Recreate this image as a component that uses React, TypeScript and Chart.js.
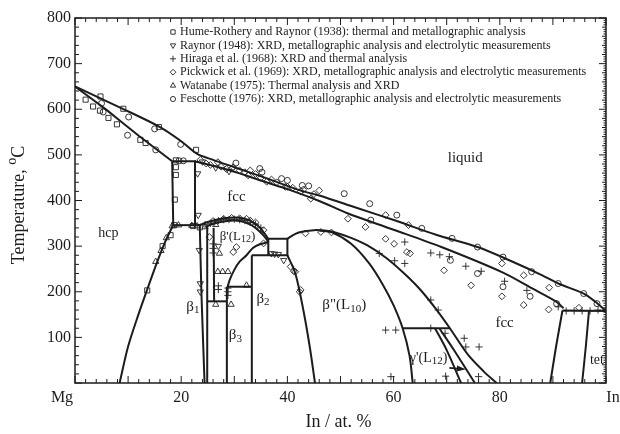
import React, { useEffect, useRef } from 'react';
import { Chart, registerables } from 'chart.js';
import { drawPoint } from 'chart.js/helpers';
Chart.register(...registerables);

const FONT = '"Liberation Serif", "Times New Roman", serif';
const INK = '#1c1c1c';

// ---- axis ticks ----
const xTickPositions = [0, 20, 40, 60, 80, 100];
const xTickLabels = ['Mg', '20', '40', '60', '80', 'In'];
const yTickValues = [100, 200, 300, 400, 500, 600, 700, 800];

// ---- phase boundaries [In at.%, T degC] ----
const liquidus = [[0,650],[9,601],[16,561],[20,530],[23,502],[26,489],[30,473],[36,449],[42.7,421],[46,411],[53,384],[60.6,355],[68,325],[75.8,298],[82,268],[88,236],[91,218],[95.8,196],[98,178],[100,158]];
const hcpSolidus = [[0,650],[6,598],[12,542],[18.3,486]];
const fccSolidus = [[22.5,486],[25,479],[30,463],[36,440],[40,425],[46,399],[51.3,372],[60,336],[69,298],[80.6,242],[86,208],[90.7,178],[92,164]];
const peritectic = [[18.3,486],[22.8,486]];
const boxLeft = [[18.3,486],[18.5,346]];
const boxRight = [[22.6,486],[22.6,346]];
const eutectoid = [[18.5,346],[23.6,346]];
const hcpSolvus = [[18.5,346],[17,310],[15.5,266],[13.6,205],[12,152],[10,80],[8.4,0]];
const domeOuter = [[23.4,346],[25,353],[27,359],[29,362],[31,362],[33,356],[34.8,341],[36.4,316]];
const domeInner = [[24.6,342],[26,349],[28,354],[30,356],[32,352],[34,340],[35.6,322],[36.4,310]];
const smallBox = [[36.4,316],[40,316],[40,280],[33.3,280]];
const smallBoxLeft = [[36.4,316],[36.4,280]];
const beta2Dome = [[28.6,204],[29.1,225],[30,248],[31,266],[32.3,280],[33.5,296],[34.8,304],[36.4,309]];
const beta1Left = [[23.5,346],[23.8,200],[24.4,0]];
const beta1Right = [[24.9,344],[24.9,0]];
const betaPrimeLeft = [[26.1,340],[26.2,180]];
const beta3Top = [[24.9,179],[28.6,179]];
const beta3Right = [[28.6,211],[28.6,0]];
const beta2Top = [[28.6,211],[33.3,211]];
const beta2Left = [[33.3,280],[33.3,0]];
const betaDdLeft = [[40,280],[41.5,240],[43,160],[44.2,80],[45.2,0]];
const betaDdTop = [[40,316],[41.5,327],[43,332],[45,335],[47,334],[49,330],[52,318],[55,302],[58.5,275],[62,240],[65,205],[68,162],[70.6,120],[74,62],[77,25],[79.4,0]];
const betaDdRight = [[46,334],[48.4,330],[52,305],[55.4,262],[58,215],[60,170],[61.7,120],[63,60],[63.6,0]];
const gammaTop = [[61.7,120],[70.6,120]];
const gammaLeft = [[67.8,120],[70,72],[72.7,0]];
const gammaRight = [[68.6,120],[71.6,68],[75.3,0]];
const fccRight = [[91.8,159],[90.6,80],[89.5,0]];
const tetLeft = [[96.8,159],[96.2,80],[95.5,0]];
const inPeritectic = [[91.8,159],[100,158]];
const gammaArrow = [[70.5,33],[73.6,30]];

// ---- experimental points ----
const humeRothery = [[2.0,621],[3.4,606],[4.7,597],[4.8,628],[6.3,581],[7.9,567],[9.1,601],[12.3,533],[13.3,526],[15.8,561],[22.8,511],[19,488],[19,473],[19,456],[18.8,402],[13.6,203],[16.5,300],[18,324],[18.7,346],[22.2,344],[23.5,341]];
const raynor = [[23.1,459],[23.2,368],[23.4,291],[23.6,200],[23.6,218],[27,300],[37,284],[37.6,283],[38.3,282],[39.3,269],[24,485],[26.5,472],[29,464]];
const hiraga = [[58.5,116],[60.4,116],[67,120],[69.7,109],[73.3,98],[73.6,79],[76.1,79],[67,182],[68.4,160],[59.5,14],[69.8,15],[76,14],[57.3,284],[60.2,268],[62.1,262],[62.1,309],[67,285],[68.7,281],[70.5,277],[73.6,256],[76.5,245],[80.9,223],[85.1,203],[91,167],[92.5,158],[94,158],[95.5,158],[97,158],[98.5,160],[26,285],[26,295],[26,305],[28.8,192],[28.8,200],[28.8,208],[27,205],[27,213],[24.5,347],[25.5,350],[26.3,353],[27,356],[28,358],[29,358],[30,359],[31,358],[32,356],[33,352],[34,348],[35,340]];
const pickwick = [[23.6,489],[24.7,481],[25.5,478],[26.9,484],[27.5,474],[28.5,469],[29.5,470],[31,466],[32,462],[32.6,455],[34,458],[35,450],[36.1,441],[37,446],[38,440],[40,430],[41,428],[43,424],[44.4,404],[45,414],[46,422],[29.8,473],[33,466],[39.6,430],[42.5,420],[46.3,331],[54.7,342],[51.4,360],[58.5,316],[60.1,305],[62.5,287],[63.1,284],[69.5,247],[74.6,214],[80.4,262],[80.4,190],[84.5,236],[84.5,171],[89.3,209],[89.2,161],[58.5,368],[62.8,346],[94.9,165],[29.8,287],[35.5,306],[40.6,255],[41.2,245],[42.3,200],[43.4,328],[48.3,330],[42.5,204],[41.5,244],[26,355],[28,360],[29.5,362],[31,361],[33,356],[34,352],[32.3,360],[35.5,335],[25.3,320],[30.4,298]];
const watanabe = [[15.2,266],[16.2,290],[17.2,318],[18.3,344],[19.5,346],[22,345],[23,344],[27.2,284],[26.9,244],[27.8,244],[28.8,244],[26.5,172],[29.4,172],[32.3,214],[24.5,342],[26.5,347]];
const feschotte = [[5.0,613],[5.3,594],[10.1,583],[9.9,543],[15,557],[15.2,511],[19.9,523],[19.6,487],[20.4,487],[30.3,482],[34.8,470],[38.9,448],[42.8,433],[35.2,462],[40,444],[44,432],[50.7,415],[55.5,393],[55.7,357],[60.6,368],[65.3,339],[71,317],[75.8,298],[80.6,276],[86,244],[91,218],[95.8,196],[98.3,174],[70.7,269],[75.8,240],[80.6,211],[85.7,190],[90.7,174]];

const legendLabels = [
  'Hume-Rothery and Raynor (1938): thermal and metallographic analysis',
  'Raynor (1948): XRD, metallographic analysis and electrolytic measurements',
  'Hiraga et al. (1968): XRD and thermal analysis',
  'Pickwick et al. (1969): XRD, metallographic analysis and electrolytic measurements',
  'Watanabe (1975): Thermal analysis and XRD',
  'Feschotte (1976): XRD, metallographic analysis and electrolytic measurements',
];

type Part = { t: string; sub?: boolean; sup?: boolean };
const regionLabels: { x: number; y: number; size: number; parts: Part[]; align?: string }[] = [
  { x: 73.5, y: 492, size: 15, parts: [{ t: 'liquid' }] },
  { x: 30.4, y: 408, size: 15, parts: [{ t: 'fcc' }] },
  { x: 6.3, y: 328, size: 14, parts: [{ t: 'hcp' }] },
  { x: 30.6, y: 321, size: 13, parts: [{ t: "β'(L" }, { t: '12', sub: true }, { t: ')' }] },
  { x: 22.2, y: 167, size: 15, parts: [{ t: 'β' }, { t: '1', sub: true }] },
  { x: 35.4, y: 185, size: 15, parts: [{ t: 'β' }, { t: '2', sub: true }] },
  { x: 30.2, y: 105, size: 15, parts: [{ t: 'β' }, { t: '3', sub: true }] },
  { x: 50.7, y: 171, size: 15, parts: [{ t: 'β"(L' }, { t: '10', sub: true }, { t: ')' }] },
  { x: 80.9, y: 131, size: 15, parts: [{ t: 'fcc' }] },
  { x: 66.6, y: 55, size: 14, parts: [{ t: "γ'(L" }, { t: '12', sub: true }, { t: ')' }] },
  { x: 99.6, y: 50, size: 14, parts: [{ t: 'tet' }], align: 'right' },
];

function partsWidth(ctx: CanvasRenderingContext2D, parts: Part[], size: number) {
  let w = 0;
  for (const p of parts) {
    ctx.font = `${p.sub || p.sup ? Math.round(size * 0.75) : size}px ${FONT}`;
    w += ctx.measureText(p.t).width;
  }
  return w;
}
function drawParts(ctx: CanvasRenderingContext2D, parts: Part[], size: number, cx: number, cy: number, align = 'center') {
  const w = partsWidth(ctx, parts, size);
  let x = align === 'center' ? cx - w / 2 : align === 'right' ? cx - w : cx;
  ctx.textAlign = 'left';
  ctx.textBaseline = 'middle';
  for (const p of parts) {
    const s = p.sub || p.sup ? Math.round(size * 0.75) : size;
    ctx.font = `${s}px ${FONT}`;
    const dy = p.sub ? size * 0.25 : p.sup ? -size * 0.35 : 0;
    ctx.fillText(p.t, x, cy + dy);
    x += ctx.measureText(p.t).width;
  }
}

const toXY = (arr: number[][]) => arr.map(([x, y]) => ({ x, y }));
const lineDs = (arr: number[][], tension = 0.3) => ({
  data: toXY(arr), showLine: true, pointRadius: 0, borderColor: INK, borderWidth: 2, tension, fill: false,
});
const ptDs = (arr: number[][], style: string, rot = 0, r = 3.2) => ({
  data: toXY(arr), showLine: false, pointStyle: style, pointRotation: rot, pointRadius: r,
  pointBorderColor: '#222', pointBackgroundColor: 'rgba(255,255,255,0)', pointBorderWidth: 0.9,
});

const markerDefs = [
  { style: 'rect', rot: 0, r: 3.6 },
  { style: 'triangle', rot: 180, r: 3.6 },
  { style: 'cross', rot: 0, r: 3.6 },
  { style: 'rectRot', rot: 0, r: 3.4 },
  { style: 'triangle', rot: 0, r: 3.6 },
  { style: 'circle', rot: 0, r: 3.0 },
];

const decorPlugin = {
  id: 'decor',
  afterDatasetsDraw(chart: any) {
    const { ctx, chartArea: a, scales } = chart;
    const xs = scales.x, ys = scales.y;
    ctx.save();
    ctx.strokeStyle = INK;
    ctx.fillStyle = INK;
    ctx.lineWidth = 1.5;
    ctx.strokeRect(a.left, a.top, a.right - a.left, a.bottom - a.top);
    ctx.lineWidth = 1;
    const seg = (x1: number, y1: number, x2: number, y2: number) => { ctx.beginPath(); ctx.moveTo(x1, y1); ctx.lineTo(x2, y2); ctx.stroke(); };
    for (let v = 0; v <= 100; v += 2) {
      const px = xs.getPixelForValue(v);
      const len = v % 10 === 0 ? 7 : 4;
      seg(px, a.bottom, px, a.bottom - len);
      seg(px, a.top, px, a.top + len);
    }
    for (let v = 0; v <= 800; v += 20) {
      const py = ys.getPixelForValue(v);
      seg(a.left, py, a.left + (v % 100 === 0 ? 7 : 4), py);
    }
    for (let v = 0; v <= 800; v += 5) {
      const py = ys.getPixelForValue(v);
      seg(a.right, py, a.right - (v % 100 === 0 ? 7 : v % 20 === 0 ? 4 : 2.5), py);
    }
    ctx.font = `16px ${FONT}`;
    ctx.textAlign = 'center';
    ctx.textBaseline = 'middle';
    xTickPositions.forEach((v, i) => {
      const off = i === 0 ? -13 : i === xTickPositions.length - 1 ? 7 : 0;
      ctx.fillText(xTickLabels[i], xs.getPixelForValue(v) + off, 398);
    });
    ctx.font = `18px ${FONT}`;
    ctx.fillText('In / at. %', (a.left + a.right) / 2 - 2, 422);
    ctx.save();
    ctx.translate(19, 205);
    ctx.rotate(-Math.PI / 2);
    drawParts(ctx, [{ t: 'Temperature, ' }, { t: 'o', sup: true }, { t: 'C' }], 18, 0, 0);
    ctx.restore();
    for (const l of regionLabels) {
      drawParts(ctx, l.parts, l.size, xs.getPixelForValue(l.x), ys.getPixelForValue(l.y), l.align || 'center');
    }
    const ax1 = xs.getPixelForValue(gammaArrow[0][0]), ay1 = ys.getPixelForValue(gammaArrow[0][1]);
    const ax2 = xs.getPixelForValue(gammaArrow[1][0]), ay2 = ys.getPixelForValue(gammaArrow[1][1]);
    const ang = Math.atan2(ay2 - ay1, ax2 - ax1);
    ctx.lineWidth = 1.8;
    seg(ax1, ay1, ax2 - 6 * Math.cos(ang), ay2 - 6 * Math.sin(ang));
    ctx.beginPath();
    ctx.moveTo(ax2, ay2);
    ctx.lineTo(ax2 - 9 * Math.cos(ang) + 3 * Math.sin(ang), ay2 - 9 * Math.sin(ang) - 3 * Math.cos(ang));
    ctx.lineTo(ax2 - 9 * Math.cos(ang) - 3 * Math.sin(ang), ay2 - 9 * Math.sin(ang) + 3 * Math.cos(ang));
    ctx.closePath();
    ctx.fill();
    const lx = 173, ly0 = 32, dy = 13.4;
    legendLabels.forEach((txt, i) => {
      const m = markerDefs[i];
      ctx.lineWidth = 0.9;
      ctx.strokeStyle = '#222';
      ctx.fillStyle = 'rgba(255,255,255,0)';
      drawPoint(ctx, { pointStyle: m.style, radius: m.r * 0.85, rotation: m.rot, borderWidth: 0.9 } as any, lx, ly0 + i * dy);
      ctx.fillStyle = INK;
      ctx.font = `12px ${FONT}`;
      ctx.textAlign = 'left';
      ctx.textBaseline = 'middle';
      ctx.fillText(txt, lx + 7, ly0 + i * dy);
    });
    ctx.restore();
  },
};

export default function App() {
  const ref = useRef<HTMLCanvasElement>(null);
  useEffect(() => {
    if (!ref.current) return;
    const datasets: any[] = [
      lineDs(liquidus), lineDs(hcpSolidus, 0.1), lineDs(fccSolidus), lineDs(peritectic, 0), lineDs(boxLeft, 0), lineDs(boxRight, 0),
      lineDs(eutectoid, 0), lineDs(hcpSolvus), lineDs(domeOuter), lineDs(domeInner), lineDs(smallBox, 0), lineDs(smallBoxLeft, 0),
      lineDs(beta2Dome), lineDs(beta1Left, 0.2), lineDs(beta1Right, 0), lineDs(betaPrimeLeft, 0), lineDs(beta3Top, 0), lineDs(beta3Right, 0),
      lineDs(beta2Top, 0), lineDs(beta2Left, 0), lineDs(betaDdLeft), lineDs(betaDdTop), lineDs(betaDdRight), lineDs(gammaTop, 0),
      lineDs(gammaLeft), lineDs(gammaRight), lineDs(fccRight, 0.2), lineDs(tetLeft, 0.2), lineDs(inPeritectic, 0),
      ptDs(humeRothery, 'rect', 0, 3.6), ptDs(raynor, 'triangle', 180, 3.6), ptDs(hiraga, 'cross', 0, 3.6),
      ptDs(pickwick, 'rectRot', 0, 3.4), ptDs(watanabe, 'triangle', 0, 3.6), ptDs(feschotte, 'circle', 0, 3.0),
    ];
    const chart = new Chart(ref.current, {
      type: 'scatter',
      data: { datasets },
      options: {
        animation: false,
        responsive: false,
        devicePixelRatio: 1,
        layout: { padding: { top: 18, right: 14, left: 0, bottom: 0 } },
        plugins: { legend: { display: false }, tooltip: { enabled: false } },
        scales: {
          x: {
            type: 'linear', min: 0, max: 100,
            grid: { display: false, drawTicks: false }, border: { display: false },
            ticks: { display: false },
            afterFit: (s: any) => { s.height = 51; },
          },
          y: {
            type: 'linear', min: 0, max: 800,
            grid: { display: false, drawTicks: false }, border: { display: false },
            afterBuildTicks: (s: any) => { s.ticks = yTickValues.map((v) => ({ value: v })); },
            ticks: { color: INK, padding: 4, font: { family: FONT, size: 16 } },
            afterFit: (s: any) => { s.width = 75; },
          },
        },
      } as any,
      plugins: [decorPlugin],
    });
    return () => chart.destroy();
  }, []);
  return (
    <div style={{ position: 'absolute', left: 0, top: 0, width: 620, height: 434, background: '#fff' }}>
      <canvas ref={ref} width={620} height={434} />
    </div>
  );
}
